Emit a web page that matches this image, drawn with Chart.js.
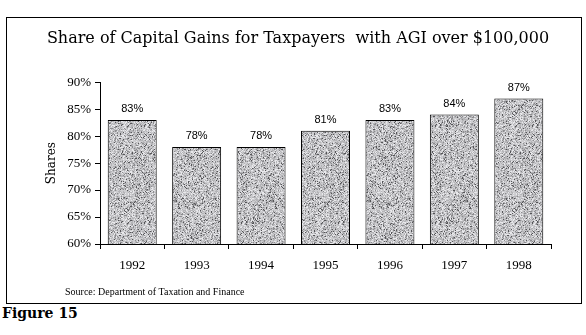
<!DOCTYPE html>
<html>
<head>
<meta charset="utf-8">
<script src="https://cdn.jsdelivr.net/npm/chart.js@4.4.1/dist/chart.umd.min.js"></script>
<style>
    html, body { margin: 0; padding: 0; background: #fff; }
    #page { position: relative; width: 586px; height: 335px; overflow: hidden; }
    #frame { position: absolute; left: 6px; top: 17px; width: 576px; height: 287px;
             border: 1px solid #000; box-sizing: border-box; }
    #frame canvas { display: block; }
    #fig { position: absolute; left: 2px; top: 305px; font: bold 14px "DejaVu Serif"; color: #000; }
</style>
</head>
<body>
<div id="page">
    <div id="frame"><canvas id="shares-chart" width="574" height="285"></canvas></div>
    <div id="fig">Figure 15</div>
</div>
<script>
// Chart data
const years = ['1992', '1993', '1994', '1995', '1996', '1997', '1998'];
const shares = [83, 78, 78, 81, 83, 84, 87];
const yMin = 60;
const yMax = 90;
const yStep = 5;
const chartTitle = 'Share of Capital Gains for Taxpayers  with AGI over $100,000';
const yAxisLabel = 'Shares';
const sourceNote = 'Source: Department of Taxation and Finance';

// Grey "granite" fill, like the old spreadsheet texture
function granitePattern() {
    const size = 97;
    const c = document.createElement('canvas');
    c.width = c.height = size;
    const g = c.getContext('2d');
    const img = g.createImageData(size, size);
    for (let i = 0; i < size * size; i++) {
        let n = Math.sin(i * 12.9898 + 78.233) * 43758.5453;
        n -= Math.floor(n);
        let v;
        if (n < 0.06) v = 85;
        else if (n < 0.20) v = 140;
        else if (n < 0.48) v = 180;
        else if (n < 0.84) v = 205;
        else v = 232;
        img.data[i * 4] = v;
        img.data[i * 4 + 1] = v;
        img.data[i * 4 + 2] = v + 3;
        img.data[i * 4 + 3] = 255;
    }
    g.putImageData(img, 0, 0);
    return g.createPattern(c, 'repeat');
}

// Percent labels over the bars + source line
const barLabels = {
    id: 'barLabels',
    afterDatasetsDraw(chart) {
        const { ctx } = chart;
        const meta = chart.getDatasetMeta(0);
        ctx.save();
        ctx.fillStyle = '#000';
        ctx.font = '11px "Liberation Sans"';
        ctx.textAlign = 'center';
        ctx.textBaseline = 'alphabetic';
        meta.data.forEach((bar, i) => {
            ctx.fillText(shares[i] + '%', bar.x, bar.y - 7.5);
        });
        ctx.font = '10px "Liberation Serif"';
        ctx.textAlign = 'left';
        ctx.textBaseline = 'middle';
        ctx.fillText(sourceNote, 58, 274);
        ctx.restore();
    }
};

const ctx = document.getElementById('shares-chart').getContext('2d');

new Chart(ctx, {
    type: 'bar',
    data: {
        labels: years,
        datasets: [{
            data: shares,
            backgroundColor: granitePattern(),
            borderColor: '#000',
            borderWidth: 1,
            borderSkipped: false,
            categoryPercentage: 1,
            barPercentage: 0.76
        }]
    },
    options: {
        responsive: false,
        animation: false,
        layout: {
            padding: { left: 38, right: 30, top: 0, bottom: 29 }
        },
        plugins: {
            legend: { display: false },
            tooltip: { enabled: false },
            title: {
                display: true,
                text: chartTitle,
                color: '#000',
                font: { family: 'DejaVu Serif', size: 16, weight: 'normal' },
                padding: { top: 11, bottom: 34 }
            }
        },
        scales: {
            x: {
                grid: {
                    display: true,
                    drawOnChartArea: false,
                    drawTicks: true,
                    tickLength: 5,
                    color: '#000',
                    offset: true
                },
                border: { color: '#000', width: 1 },
                ticks: {
                    color: '#000',
                    font: { family: 'Liberation Serif', size: 13 },
                    padding: 9
                },
                afterFit: scale => { scale.height = 30; }
            },
            y: {
                min: yMin,
                max: yMax,
                grid: {
                    drawOnChartArea: false,
                    drawTicks: true,
                    tickLength: 5,
                    color: '#000'
                },
                border: { color: '#000', width: 1 },
                ticks: {
                    stepSize: yStep,
                    color: '#000',
                    font: { family: 'Liberation Serif', size: 13 },
                    padding: 4,
                    callback: v => v + '%'
                },
                title: {
                    display: true,
                    text: yAxisLabel,
                    color: '#000',
                    font: { family: 'DejaVu Serif', size: 12 },
                    padding: { top: 0, bottom: 4 }
                },
                afterFit: scale => { scale.width = 55; }
            }
        }
    },
    plugins: [barLabels]
});
</script>
</body>
</html>
